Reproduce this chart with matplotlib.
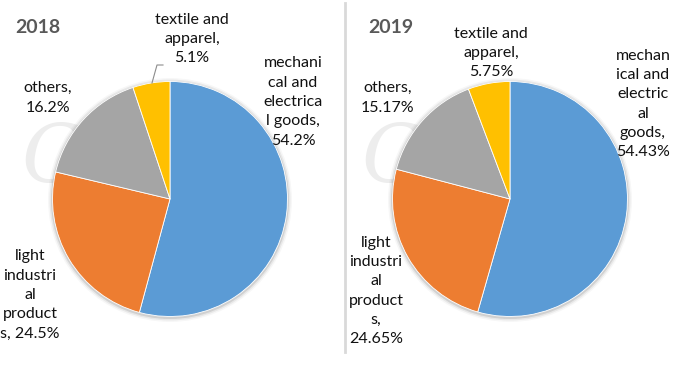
import matplotlib
matplotlib.use("Agg")
import matplotlib.pyplot as plt
from matplotlib.patches import Circle

plt.rcParams['font.family'] = ['Lato', 'DejaVu Sans']

categories = ["mechanical and electrical goods", "light industrial products", "others", "textile and apparel"]
share_2018 = [54.2, 24.5, 16.2, 5.1]
share_2019 = [54.43, 24.65, 15.17, 5.75]
labels_2018 = ["mechani\ncal and\nelectrica\nl goods,\n54.2%",
               "light\nindustri\nal\nproduct\ns, 24.5%",
               "others,\n16.2%",
               "textile and\napparel,\n5.1%"]
labels_2019 = ["mechan\nical and\nelectric\nal\ngoods,\n54.43%",
               "light\nindustri\nal\nproduct\ns,\n24.65%",
               "others,\n15.17%",
               "textile and\napparel,\n5.75%"]
years = ["2018", "2019"]
colors = ["#5B9BD5", "#ED7D31", "#A5A5A5", "#FFC000"]

W, H = 682, 374
fig = plt.figure(figsize=(W / 100, H / 100), dpi=100)
ax = fig.add_axes([0, 0, 1, 1])

def Y(ypix):
    return H - ypix

# watermark (faint)
for x0 in [22, 362]:
    ax.text(x0, Y(160), "Co", fontsize=58, style='italic', color='#ededed',
            ha='left', va='center', zorder=0, family='DejaVu Serif')

centers = [(170, 199), (510, 199)]
radius = 117.5
for (cx, cy), vals in zip(centers, [share_2018, share_2019]):
    for k, a in enumerate([0.10, 0.06, 0.03]):
        ax.add_patch(Circle((cx, Y(cy) - 1), radius + 1.5 + 1.5 * k, color='#000000', alpha=a,
                            lw=0, zorder=1))
    ax.pie(vals, colors=colors, startangle=90, counterclock=False,
           center=(cx, Y(cy)), radius=radius,
           wedgeprops=dict(linewidth=0.6, edgecolor='white', zorder=2), frame=True)

txt = dict(fontsize=11.5, color='#111111', ha='center', va='center', linespacing=1.48, zorder=5)
# 2018 labels
ax.text(293, Y(102), labels_2018[0], **txt)
ax.text(30, Y(295), labels_2018[1], **txt)
ax.text(48, Y(98), labels_2018[2], **txt)
ax.text(192, Y(39), labels_2018[3], **txt)
ax.plot([152, 157, 163], [Y(83), Y(65), Y(65)], color='#8c8c8c', lw=0.8, zorder=4)
# 2019 labels
ax.text(643, Y(104), labels_2019[0], **txt)
ax.text(376, Y(291), labels_2019[1], **txt)
ax.text(388, Y(98), labels_2019[2], **txt)
ax.text(491, Y(53), labels_2019[3], **txt)

# titles
ax.text(15, Y(27), years[0], fontsize=14, fontweight='bold', color='#595959', ha='left', va='center')
ax.text(368, Y(27), years[1], fontsize=14, fontweight='bold', color='#595959', ha='left', va='center')

# divider
ax.plot([345, 345], [Y(3), Y(352)], color='#d9d9d9', lw=2, zorder=1)

ax.set_xlim(0, W)
ax.set_ylim(0, H)
ax.set_aspect('auto')
ax.axis('off')
fig.savefig("out.png", dpi=100)
